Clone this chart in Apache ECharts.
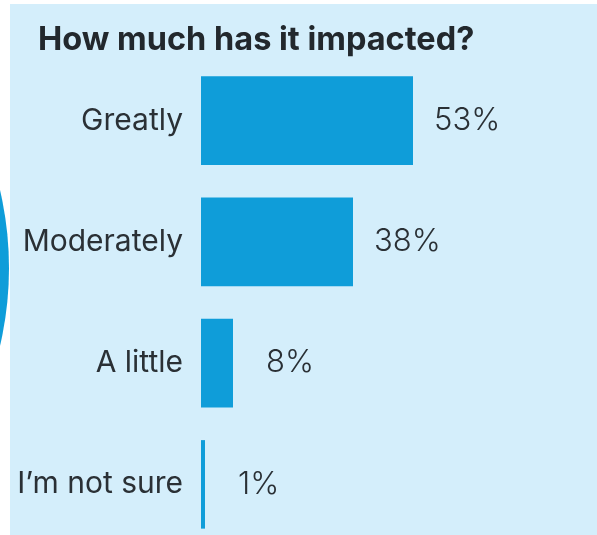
<!DOCTYPE html>
<html>
<head>
<meta charset="utf-8">
<script src="https://cdn.jsdelivr.net/npm/echarts@6/dist/echarts.min.js"></script>
<style>
  html, body { margin: 0; padding: 0; background: #ffffff; }
  #chart { width: 597px; height: 535px; }
</style>
</head>
<body>
<div id="chart"></div>
<script>
const categories = ['Greatly', 'Moderately', 'A little', 'I’m not sure'];
const percents = [53, 38, 8, 1];
const titleText = 'How much has it impacted?';

const myChart = echarts.init(document.getElementById('chart'));

// small bars get their label pushed a bit further out, as in the original
const barData = percents.map((v) => ({
  value: v,
  label: { distance: v < 10 ? 33 : 21 },
}));

const option = {
  backgroundColor: '#ffffff',
  animation: false,
  graphic: [
    {
      type: 'rect',
      z: -10,
      shape: { x: 10, y: 4, width: 590, height: 535 },
      style: { fill: '#d4eefb' },
    },
    {
      type: 'circle',
      z: -10,
      shape: { cx: -333, cy: 268, r: 342 },
      style: { fill: '#0f9dd9' },
    },
  ],
  title: {
    text: titleText,
    left: 33,
    top: 19,
    textStyle: {
      fontFamily: 'Inter',
      fontWeight: 'bold',
      fontSize: 32.5,
      color: '#22282d',
    },
  },
  grid: {
    left: 201,
    top: 60,
    width: 424,
    height: 485,
    outerBoundsMode: 'none',
    containLabel: false,
  },
  xAxis: {
    type: 'value',
    min: 0,
    max: 106,
    show: false,
  },
  yAxis: {
    type: 'category',
    data: categories,
    inverse: true,
    axisLine: { show: false },
    axisTick: { show: false },
    splitLine: { show: false },
    axisLabel: {
      margin: 18,
      fontFamily: 'Inter',
      fontSize: 30,
      color: '#2a3035',
    },
  },
  series: [
    {
      type: 'bar',
      data: barData,
      barCategoryGap: '27%',
      itemStyle: { color: '#0f9dd9' },
      label: {
        show: true,
        position: 'right',
        formatter: '{c}%',
        fontFamily: 'Inter',
        fontWeight: 300,
        fontSize: 31,
        color: '#2a3035',
      },
    },
  ],
};

myChart.setOption(option);
</script>
</body>
</html>
